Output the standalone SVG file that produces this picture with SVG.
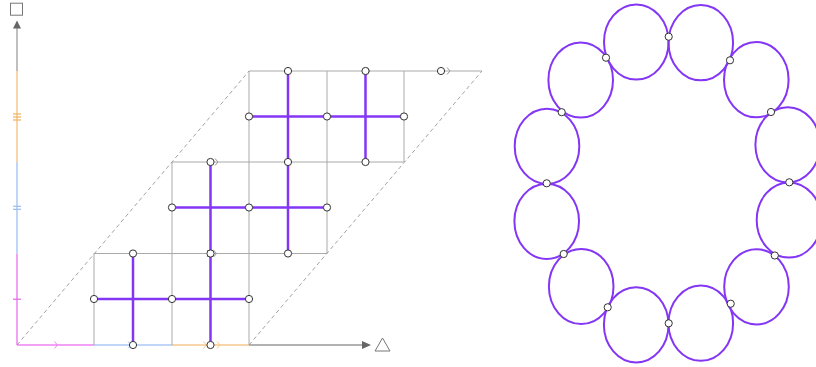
<svg xmlns="http://www.w3.org/2000/svg" width="816" height="367" viewBox="0 0 816 367">
<style>
.grid{stroke:#aaaaaa;stroke-width:1;fill:none}
.dash{stroke:#999999;stroke-width:0.9;stroke-dasharray:4 3;fill:none}
.path{stroke:#8436f5;stroke-width:2.5;fill:none;stroke-linecap:butt}
.ring{stroke:#8436f5;stroke-width:2;fill:none}
.node{fill:#ffffff;stroke:#333333;stroke-width:1}
.chev{fill:none;stroke-width:1}
.pink{stroke:#ee82f2}
.blue{stroke:#aac8f7}
.orange{stroke:#f6c98e}
.grey{stroke:#999999}
.axis{stroke-width:1.5;fill:none}
</style>
<defs>
<polyline id="chev" points="-3,-3.5 0,0 -3,3.5"/>
<line id="tick" x1="-4" y1="0" x2="4" y2="0"/>
</defs>

<g id="axes">
<line class="axis pink" x1="17" y1="345" x2="94" y2="345"/>
<line class="axis blue" x1="94" y1="345" x2="172" y2="345"/>
<line class="axis orange" x1="172" y1="345" x2="249" y2="345"/>
<line class="axis" stroke="#999999" x1="249" y1="345" x2="363" y2="345"/>
<polygon points="362,341 371,345 362,349" fill="#666666"/>
<polygon points="382.5,338 390,351 375,351" fill="none" stroke="#777777" stroke-width="1"/>
<line class="axis pink" x1="17" y1="345" x2="17" y2="253.5"/>
<line class="axis blue" x1="17" y1="253.5" x2="17" y2="162"/>
<line class="axis orange" x1="17" y1="162" x2="17" y2="71"/>
<line class="axis" stroke="#aaaaaa" x1="17" y1="71" x2="17" y2="28"/>
<polygon points="13,28.5 17,20.5 21,28.5" fill="#666666"/>
<rect x="10.5" y="3.2" width="12" height="12" fill="none" stroke="#777777" stroke-width="1"/>
<g stroke-width="1.2">
<use href="#tick" x="17" y="299.2" stroke="#e066ea"/>
<use href="#tick" x="17" y="206.3" stroke="#99bdf5"/>
<use href="#tick" x="17" y="209.3" stroke="#99bdf5"/>
<use href="#tick" x="17" y="114" stroke="#f2b060"/>
<use href="#tick" x="17" y="117" stroke="#f2b060"/>
<use href="#tick" x="17" y="120" stroke="#f2b060"/>
</g>
</g>

<g id="grid">
<line class="grid" x1="94" y1="253.5" x2="327" y2="253.5"/>
<line class="grid" x1="172" y1="162" x2="404" y2="162"/>
<line class="grid" x1="249" y1="71" x2="404" y2="71"/>
<line class="grid" stroke="#bbbbbb" x1="404" y1="71" x2="482" y2="71"/>
<line class="grid" x1="94" y1="253.5" x2="94" y2="345"/>
<line class="grid" x1="172" y1="162" x2="172" y2="345"/>
<line class="grid" x1="249" y1="71" x2="249" y2="345"/>
<line class="grid" x1="327" y1="71" x2="327" y2="253.5"/>
<line class="grid" x1="404" y1="71" x2="404" y2="162"/>
<line class="dash" x1="17" y1="345" x2="249" y2="71"/>
<line class="dash" x1="249" y1="345" x2="482" y2="71"/>
</g>

<g id="connectors">
<line class="path" x1="94" y1="299" x2="249" y2="299"/>
<line class="path" x1="133" y1="253.5" x2="133" y2="345"/>
<line class="path" x1="210.5" y1="162" x2="210.5" y2="345"/>
<line class="path" x1="172" y1="207.5" x2="327" y2="207.5"/>
<line class="path" x1="288" y1="71" x2="288" y2="253.5"/>
<line class="path" x1="249" y1="116.5" x2="404" y2="116.5"/>
<line class="path" x1="365.5" y1="71" x2="365.5" y2="162"/>
</g>

<g id="chevrons">
<use href="#chev" class="chev pink" x="57.5" y="345"/>
<use href="#chev" class="chev blue" x="131" y="345"/>
<use href="#chev" class="chev blue" x="136" y="345"/>
<use href="#chev" class="chev orange" x="206.5" y="345"/>
<use href="#chev" class="chev orange" x="213.5" y="345"/>
<use href="#chev" class="chev orange" x="220" y="345"/>
<use href="#chev" class="chev grey" x="210" y="253.5"/>
<use href="#chev" class="chev grey" x="216.5" y="253.5"/>
<use href="#chev" class="chev grey" x="218" y="162"/>
<use href="#chev" class="chev grey" x="370" y="71"/>
<use href="#chev" class="chev grey" x="450" y="71"/>
</g>

<g id="ring">
<ellipse class="ring" cx="636.3" cy="42" rx="32.3" ry="37.6"/>
<ellipse class="ring" cx="700.8" cy="42.7" rx="32.3" ry="37.6"/>
<ellipse class="ring" cx="756.3" cy="79.7" rx="32.3" ry="37.6"/>
<ellipse class="ring" cx="787.7" cy="144.8" rx="32.3" ry="37.6"/>
<ellipse class="ring" cx="789" cy="220" rx="32.3" ry="37.6"/>
<ellipse class="ring" cx="756.5" cy="286.8" rx="32.3" ry="37.6"/>
<ellipse class="ring" cx="700.8" cy="323.2" rx="32.3" ry="37.6"/>
<ellipse class="ring" cx="636.2" cy="324.8" rx="32.3" ry="37.6"/>
<ellipse class="ring" cx="581.2" cy="286.5" rx="32.3" ry="37.6"/>
<ellipse class="ring" cx="546.7" cy="221.3" rx="32.3" ry="37.6"/>
<ellipse class="ring" cx="547" cy="146.3" rx="32.3" ry="37.6"/>
<ellipse class="ring" cx="580.7" cy="80" rx="32.3" ry="37.6"/>
</g>

<g id="nodes">
<circle id="n1" class="node" cx="133" cy="253.5" r="3.6"/>
<circle id="n2" class="node" cx="133" cy="345" r="3.6"/>
<circle id="n3" class="node" cx="94" cy="299" r="3.6"/>
<circle id="n4" class="node" cx="172" cy="299" r="3.6"/>
<circle id="n5" class="node" cx="249" cy="299" r="3.6"/>
<circle id="n6" class="node" cx="210.5" cy="162" r="3.6"/>
<circle id="n7" class="node" cx="210.5" cy="253.5" r="3.6"/>
<circle id="n8" class="node" cx="210.5" cy="345" r="3.6"/>
<circle id="n9" class="node" cx="172" cy="207.5" r="3.6"/>
<circle id="n10" class="node" cx="249" cy="207.5" r="3.6"/>
<circle id="n11" class="node" cx="327" cy="207.5" r="3.6"/>
<circle id="n12" class="node" cx="288" cy="71" r="3.6"/>
<circle id="n13" class="node" cx="288" cy="162" r="3.6"/>
<circle id="n14" class="node" cx="288" cy="253.5" r="3.6"/>
<circle id="n15" class="node" cx="249" cy="116.5" r="3.6"/>
<circle id="n16" class="node" cx="327" cy="116.5" r="3.6"/>
<circle id="n17" class="node" cx="404" cy="116.5" r="3.6"/>
<circle id="n18" class="node" cx="365.5" cy="71" r="3.6"/>
<circle id="n19" class="node" cx="365.5" cy="162" r="3.6"/>
<circle id="n20" class="node" cx="441" cy="71" r="3.6"/>
<circle id="r1" class="node" cx="668.7" cy="36.7" r="3.6"/>
<circle id="r2" class="node" cx="730" cy="60.3" r="3.6"/>
<circle id="r3" class="node" cx="771" cy="112" r="3.6"/>
<circle id="r4" class="node" cx="789.3" cy="182.3" r="3.6"/>
<circle id="r5" class="node" cx="774.8" cy="255.5" r="3.6"/>
<circle id="r6" class="node" cx="730.7" cy="303.7" r="3.6"/>
<circle id="r7" class="node" cx="668.7" cy="323.3" r="3.6"/>
<circle id="r8" class="node" cx="607.7" cy="307.3" r="3.6"/>
<circle id="r9" class="node" cx="563.7" cy="254" r="3.6"/>
<circle id="r10" class="node" cx="546.7" cy="183.3" r="3.6"/>
<circle id="r11" class="node" cx="561.7" cy="112.2" r="3.6"/>
<circle id="r12" class="node" cx="606" cy="57.7" r="3.6"/>
</g>
</svg>
